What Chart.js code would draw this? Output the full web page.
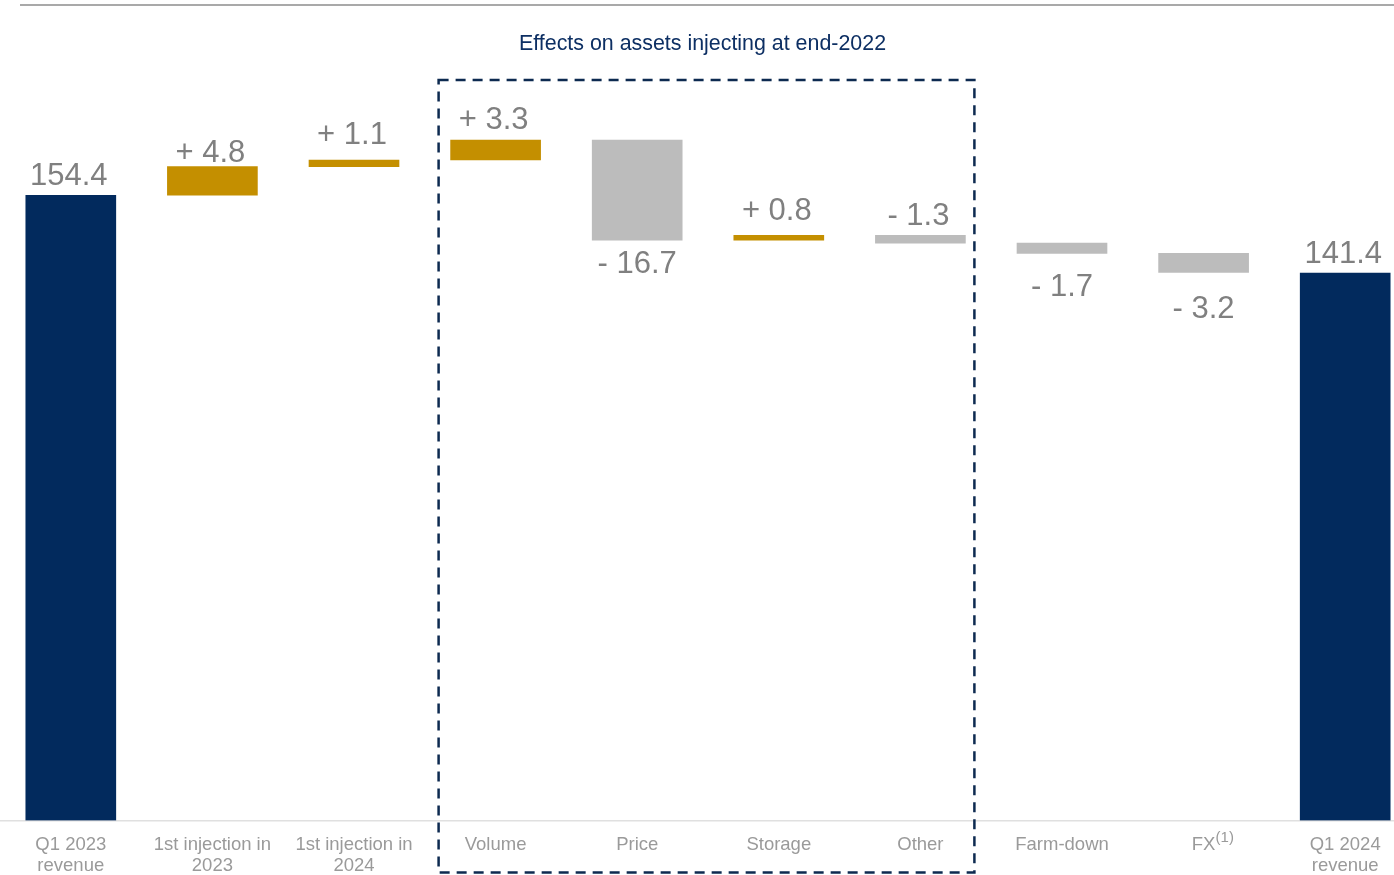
<!DOCTYPE html>
<html lang="en">
<head>
<meta charset="UTF-8" />
<title>Q1 revenue bridge</title>
<script src="https://cdn.jsdelivr.net/npm/chart.js"></script>
<style>
  html, body { margin: 0; padding: 0; background: #fff; overflow: hidden; }
  #wrap { position: relative; width: 1416px; height: 891px; }
</style>
</head>
<body>
<div id="wrap"><canvas id="bridge"></canvas></div>

<script>
// bridge data
const categories = [
  ['Q1 2023', 'revenue'], ['1st injection in', '2023'], ['1st injection in', '2024'],
  'Volume', 'Price', 'Storage', 'Other', 'Farm-down', 'FX', ['Q1 2024', 'revenue']
];
const startTotal = 154.4;
const endTotal = 141.4;
const steps = [4.8, 1.1, 3.3, -16.7, 0.8, -1.3, -1.7, -3.2]; // categories 1..8
const labelSide = ['up', 'up', 'up', 'up', 'down', 'up', 'up', 'down', 'down', 'up'];
const labelGap = [10, 5, 16, 11, 12, 15, 10, 22, 24, 10];
const boxTitle = 'Effects on assets injecting at end-2022';

const Y_MIN = 50, Y_MAX = 180;
const NAVY = '#022a5d', GOLD = '#c48f00', GREY = '#bcbcbc';

// build floating bars from running total
const bars = [[Y_MIN, startTotal]];
const colors = [NAVY];
const labels = [startTotal.toFixed(1)];
let run = startTotal;
steps.forEach(s => {
  bars.push([run, run + s]);
  colors.push(s >= 0 ? GOLD : GREY);
  labels.push((s >= 0 ? '+ ' : '- ') + Math.abs(s).toFixed(1));
  run += s;
});
bars.push([Y_MIN, endTotal]);
colors.push(NAVY);
labels.push(endTotal.toFixed(1));

const decorations = {
  id: 'decorations',
  afterDraw(chart) {
    const ctx = chart.ctx;
    const x = chart.scales.x;
    const area = chart.chartArea;
    const meta = chart.getDatasetMeta(0);
    ctx.save();

    // top rule
    ctx.strokeStyle = '#8c8c8c';
    ctx.lineWidth = 1.5;
    ctx.beginPath();
    ctx.moveTo(20, 5);
    ctx.lineTo(chart.width, 5);
    ctx.stroke();

    // value labels
    ctx.font = '31px "Liberation Sans", Arial, sans-serif';
    ctx.fillStyle = '#808080';
    ctx.textAlign = 'center';
    meta.data.forEach((bar, i) => {
      const top = Math.min(bar.y, bar.base);
      const bottom = Math.max(bar.y, bar.base);
      if (labelSide[i] === 'up') {
        ctx.textBaseline = 'alphabetic';
        ctx.fillText(labels[i], bar.x - 2, top - labelGap[i]);
      } else {
        ctx.textBaseline = 'top';
        ctx.fillText(labels[i], bar.x, bottom + labelGap[i] - 3);
      }
    });

    // FX footnote marker
    ctx.font = '15px "Liberation Sans", Arial, sans-serif';
    ctx.fillStyle = '#9a9a9a';
    ctx.textAlign = 'left';
    ctx.textBaseline = 'alphabetic';
    ctx.fillText('(1)', x.getPixelForValue(8) + 12, area.bottom + 22);

    // dashed box around the end-2022 effects
    const left = x.getPixelForValue(3) - 57;
    const right = x.getPixelForValue(6) + 54;
    const boxTop = area.top + 38;
    const boxBottom = area.bottom + 52;
    ctx.strokeStyle = '#0d2a50';
    ctx.lineWidth = 2.5;
    ctx.setLineDash([10, 7]);
    ctx.strokeRect(left, boxTop, right - left, boxBottom - boxTop);
    ctx.setLineDash([]);

    ctx.font = '21.4px "Liberation Sans", Arial, sans-serif';
    ctx.fillStyle = '#0d2f63';
    ctx.textAlign = 'center';
    ctx.textBaseline = 'middle';
    ctx.fillText(boxTitle, (left + right) / 2 - 4, 44);
    ctx.restore();
  }
};

new Chart(document.getElementById('bridge'), {
  type: 'bar',
  data: {
    labels: categories,
    datasets: [{
      data: bars,
      backgroundColor: colors,
      borderWidth: 0,
      barThickness: 90,
      borderSkipped: false
    }]
  },
  options: {
    responsive: true,
    maintainAspectRatio: false,
    animation: false,
    events: [],
    layout: { padding: { top: 42, left: 0, right: 0, bottom: 0 } },
    plugins: { legend: { display: false }, tooltip: { enabled: false }, title: { display: false } },
    scales: {
      x: {
        grid: { display: false, drawTicks: false },
        border: { display: true, color: '#e0e0e0', width: 1.5 },
        ticks: {
          color: '#9a9a9a',
          font: { family: '"Liberation Sans", Arial, sans-serif', size: 18.5, lineHeight: 1.15 },
          padding: 14,
          maxRotation: 0,
          autoSkip: false
        }
      },
      y: { display: false, min: Y_MIN, max: Y_MAX }
    }
  },
  plugins: [decorations]
});
</script>
</body>
</html>
